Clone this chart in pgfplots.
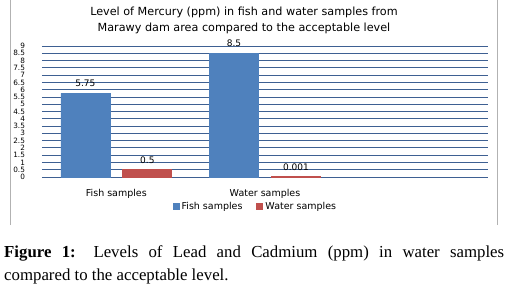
\documentclass[border=0pt]{standalone}
\usepackage{fontspec}
\setmainfont{Liberation Serif}
\newfontfamily\chartfont{DejaVu Sans}
\usepackage{pgfplots}
\pgfplotsset{compat=1.18}
\definecolor{barblue}{RGB}{79,129,189}
\definecolor{barred}{RGB}{192,80,77}
\definecolor{gridblue}{RGB}{62,96,146}
\begin{document}
\begin{tikzpicture}[x=1pt,y=1pt]
\path[use as bounding box] (0,0) rectangle (509,301);
\draw[gray!60, line width=0.8pt] (10,76) -- (10,301);
\draw[gray!60, line width=0.8pt] (497,76) -- (497,301);
\node[align=center, font=\chartfont\fontsize{11.2}{16}\selectfont] at (244,281)
  {Level of Mercury (ppm) in fish and water samples from\\Marawy dam area compared to the acceptable level};
\begin{axis}[
  at={(42pt,124pt)}, anchor=south west,
  scale only axis, width=446pt, height=131pt,
  xmin=-0.5, xmax=2.5, ymin=0, ymax=9,
  ybar=13pt, bar width=49pt,
  ytick={0,0.5,1,1.5,2,2.5,3,3.5,4,4.5,5,5.5,6,6.5,7,7.5,8,8.5,9},
  yticklabels={0,0.5,1,1.5,2,2.5,3,3.5,4,4.5,5,5.5,6,6.5,7,7.5,8,8.5,9},
  xtick={0,1}, xticklabels={Fish samples, Water samples},
  ymajorgrids, grid style={gridblue, line width=0.8pt},
  axis line style={draw=none}, tick style={draw=none},
  /pgf/number format/assume math mode=true,
  tick label style={font=\chartfont\fontsize{7.3}{7.3}\selectfont},
  yticklabel style={anchor=east, xshift=-13.5pt},
  xticklabel style={font=\chartfont\fontsize{9.5}{9.5}\selectfont, anchor=north, yshift=-4.5pt},
  legend style={at={(0.479,-0.225)}, anchor=center, draw=none, fill=none,
    font=\chartfont\fontsize{9.5}{9.5}\selectfont, legend columns=2,
    /tikz/every even column/.append style={column sep=12pt}},
  legend image code/.code={\fill (0pt,-3pt) rectangle (6pt,3pt);},
  nodes near coords={\pgfplotspointmeta},
  point meta=explicit symbolic,
  every node near coord/.append style={font=\chartfont\fontsize{9}{9}\selectfont, anchor=south, inner sep=0pt, yshift=6pt, text=black},
]
\addplot[fill=barblue, draw=barblue] coordinates {(0,5.75) [5.75] (1,8.5) [8.5]};
\addlegendentry{Fish samples}
\addplot[fill=barred, draw=barred, line width=1pt] coordinates {(0,0.5) [0.5] (1,0.001) [0.001]};
\addlegendentry{Water samples}
\end{axis}
\node[anchor=north west, text width=500pt, align=justify, inner sep=0pt, font=\fontsize{16.8}{23}\selectfont] at (4,56)
  {\textbf{Figure 1:} Levels of Lead and Cadmium (ppm) in water samples\linebreak compared to the acceptable level.};
\end{tikzpicture}
\end{document}
